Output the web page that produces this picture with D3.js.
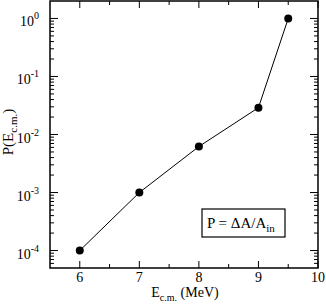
<!DOCTYPE html>
<html>
<head>
<meta charset="utf-8">
<script src="https://cdn.jsdelivr.net/npm/d3@7"></script>
<style>
  body { margin: 0; background: #fff; }
  text { font-family: "Liberation Serif", "DejaVu Serif", serif; fill: #000; }
</style>
</head>
<body>
<div id="chart"></div>
<script>
const energy = [6, 7, 8, 9, 9.5];
const prob = [1e-4, 1e-3, 6.2e-3, 2.9e-2, 1.0];
const xTicks = [6, 7, 8, 9, 10];
const yDecades = [-4, -3, -2, -1, 0];

const width = 326, height = 304;
const plotL = 50, plotR = 318, plotT = 1, plotB = 268;

const svg = d3.select("#chart").append("svg")
  .attr("width", width)
  .attr("height", height);

const x = d3.scaleLinear().domain([5.5, 10]).range([plotL, plotR]);
const y = d3.scaleLog().domain([5e-5, 2]).range([plotB, plotT]);

// frame
svg.append("rect")
  .attr("x", plotL).attr("y", plotT)
  .attr("width", plotR - plotL).attr("height", plotB - plotT)
  .attr("fill", "none").attr("stroke", "#000").attr("stroke-width", 1.5);

const ticks = svg.append("g").attr("stroke", "#000").attr("stroke-width", 1);

// x ticks, bottom and top, pointing inward
const xMinor = d3.range(5.5, 10.01, 0.5).filter(v => !xTicks.includes(v) && v > 5.5);
for (const v of xTicks) {
  ticks.append("line").attr("x1", x(v)).attr("x2", x(v)).attr("y1", plotB).attr("y2", plotB - 7);
  ticks.append("line").attr("x1", x(v)).attr("x2", x(v)).attr("y1", plotT).attr("y2", plotT + 7);
}
for (const v of xMinor) {
  ticks.append("line").attr("x1", x(v)).attr("x2", x(v)).attr("y1", plotB).attr("y2", plotB - 4);
  ticks.append("line").attr("x1", x(v)).attr("x2", x(v)).attr("y1", plotT).attr("y2", plotT + 4);
}

// y ticks, left and right
const yMinor = [];
for (let e = -5; e <= 0; e++) {
  for (let m = 2; m <= 9; m++) {
    const v = m * Math.pow(10, e);
    if (v > 5e-5 && v < 2) yMinor.push(v);
  }
}
for (const e of yDecades) {
  const yy = y(Math.pow(10, e));
  ticks.append("line").attr("x1", plotL).attr("x2", plotL + 8).attr("y1", yy).attr("y2", yy);
  ticks.append("line").attr("x1", plotR).attr("x2", plotR - 8).attr("y1", yy).attr("y2", yy);
}
for (const v of yMinor) {
  const yy = y(v);
  ticks.append("line").attr("x1", plotL).attr("x2", plotL + 4).attr("y1", yy).attr("y2", yy);
  ticks.append("line").attr("x1", plotR).attr("x2", plotR - 4).attr("y1", yy).attr("y2", yy);
}

// x tick labels
svg.append("g").selectAll("text")
  .data(xTicks)
  .join("text")
  .attr("x", d => x(d))
  .attr("y", plotB + 14)
  .attr("text-anchor", "middle")
  .attr("font-size", 14)
  .text(d => d);

// y tick labels: 10^e
const yl = svg.append("g").selectAll("text")
  .data(yDecades)
  .join("text")
  .attr("x", 39)
  .attr("y", d => y(Math.pow(10, d)) + 8)
  .attr("text-anchor", "end")
  .attr("font-size", 14);
yl.append("tspan").text("10");
yl.append("tspan").attr("dy", -7).attr("font-size", 10).text(d => d === 0 ? "0" : "-" + (-d));

// line + markers
const line = d3.line().x(d => x(d[0])).y(d => y(d[1]));
const pts = energy.map((e, i) => [e, prob[i]]);
svg.append("path")
  .datum(pts)
  .attr("fill", "none")
  .attr("stroke", "#000")
  .attr("stroke-width", 1)
  .attr("d", line);
svg.append("g").selectAll("circle")
  .data(pts)
  .join("circle")
  .attr("cx", d => x(d[0]))
  .attr("cy", d => y(d[1]))
  .attr("r", 4)
  .attr("fill", "#000");

// legend box
svg.append("rect")
  .attr("x", 202).attr("y", 209)
  .attr("width", 83).attr("height", 28)
  .attr("fill", "#fff").attr("stroke", "#000").attr("stroke-width", 1.2);
const lt = svg.append("text")
  .attr("x", 207).attr("y", 228)
  .attr("font-size", 15);
lt.append("tspan").text("P = \u0394A/A");
lt.append("tspan").attr("dy", 4).attr("font-size", 11).text("in");

// axis titles
const xt = svg.append("text")
  .attr("x", 185).attr("y", 297)
  .attr("text-anchor", "middle")
  .attr("font-size", 14);
xt.append("tspan").text("E");
xt.append("tspan").attr("dy", 4).attr("font-size", 10).text("c.m.");
xt.append("tspan").attr("dy", -4).text(" (MeV)");

const yt = svg.append("text")
  .attr("transform", `translate(13, 132) rotate(-90)`)
  .attr("text-anchor", "middle")
  .attr("font-size", 15);
yt.append("tspan").text("P(E");
yt.append("tspan").attr("dy", 4).attr("font-size", 11).text("c.m.");
yt.append("tspan").attr("dy", -4).text(")");
</script>
</body>
</html>
